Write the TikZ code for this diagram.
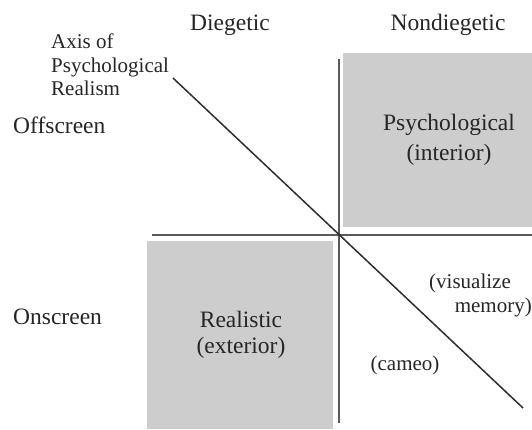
\documentclass[tikz,border=0pt]{standalone}
\usepackage{fontspec}
\setmainfont{Liberation Serif}
\begin{document}
\begin{tikzpicture}[x=1pt,y=-1pt,
  quad/.style={fill=cellgray,draw=none},
  axisline/.style={draw=axisgray,line width=2.4pt},
  diag/.style={draw=diaggray,line width=1.5pt},
  big/.style={font=\fontsize{23.5}{30}\selectfont,text=txtgray,inner sep=0pt},
  small/.style={font=\fontsize{21}{23.5}\selectfont,text=txtgray,inner sep=0pt},
]
\definecolor{cellgray}{HTML}{CDCDCD}
\definecolor{axisgray}{HTML}{5A5A5A}
\definecolor{diaggray}{HTML}{2E2E2E}
\definecolor{txtgray}{HTML}{262626}
\useasboundingbox[fill=white] (0,0) rectangle (532,429);

% shaded quadrants
\fill[quad] (343,53) rectangle (532,227);
\fill[quad] (147,241) rectangle (333,429);

% axes
\coordinate (vtop) at (339,59);
\coordinate (vbot) at (339,423);
\coordinate (hleft) at (152,235);
\coordinate (hright) at (532,235);
\draw[axisline] (vtop) -- (vbot);
\draw[axisline] (hleft) -- (hright);

% axis of psychological realism
\coordinate (dstart) at (173,78);
\coordinate (dend) at (523,408);
\draw[diag] (dstart) -- (dend);

% headings
\node[big] (dieg) at (230,25) {Diegetic};
\node[big] (nondieg) at (448,25) {Nondiegetic};
\node[big,anchor=west] (off) at (13,125) {Offscreen};
\node[big,anchor=west] (on) at (13,317) {Onscreen};
\node[small,anchor=north west,align=left] (axis) at (51,34) {Axis of\\Psychological\\Realism};

% quadrant labels
\node[big,align=center] (psy) at (449,140) {Psychological\\(interior)};
\node[big,align=center,font=\fontsize{23.5}{26}\selectfont] (real) at (241,335) {Realistic\\(exterior)};
\node[small,anchor=west] (vis) at (429,283) {(visualize};
\node[small,anchor=east] (mem) at (532,307) {memory)};
\node[small] (cam) at (405,365) {(cameo)};
\end{tikzpicture}
\end{document}
